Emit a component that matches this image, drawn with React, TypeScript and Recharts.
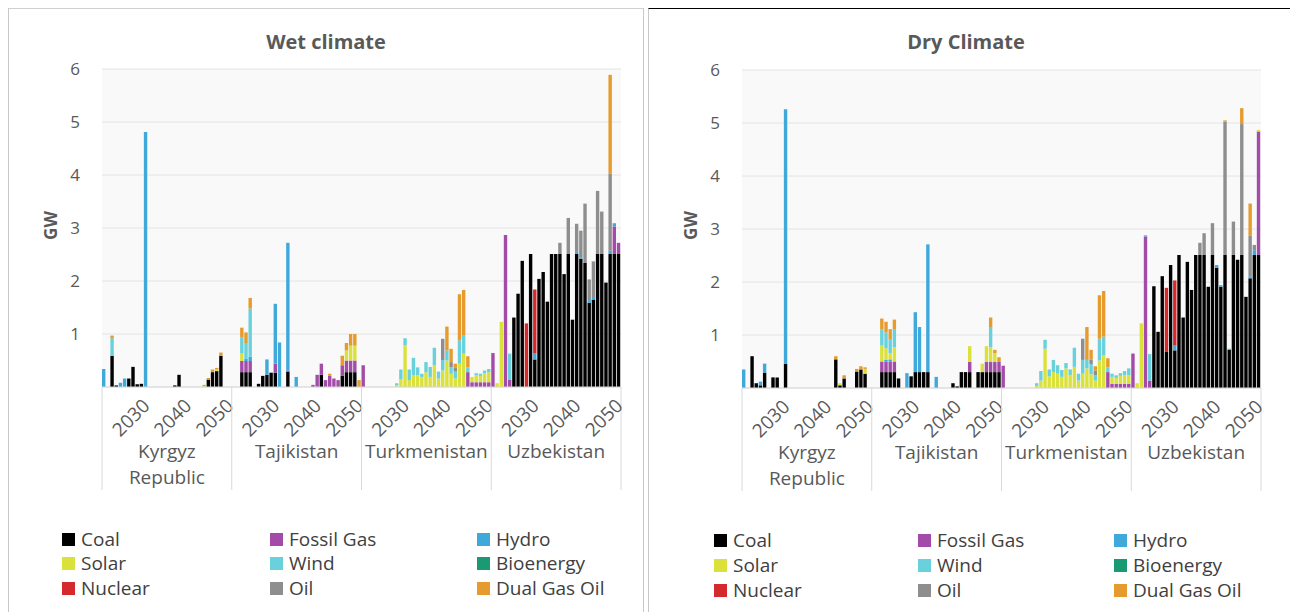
import React from 'react';
import { BarChart, Bar, XAxis, YAxis, CartesianGrid } from 'recharts';

// categories
const countries = ['Kyrgyz Republic', 'Tajikistan', 'Turkmenistan', 'Uzbekistan'];
const countryLines = [['Kyrgyz', 'Republic'], ['Tajikistan'], ['Turkmenistan'], ['Uzbekistan']];
const years = [
  2020, 2021, 2022, 2023, 2024, 2025, 2026, 2027, 2028, 2029,
  2030, 2031, 2032, 2033, 2034, 2035, 2036, 2037, 2038, 2039,
  2040, 2041, 2042, 2043, 2044, 2045, 2046, 2047, 2048, 2049,
  2050,
];
const labelledYears = [2030, 2040, 2050];
const yTicks = [1, 2, 3, 4, 5, 6];

const seriesKeys = ['coal', 'fossilGas', 'hydro', 'solar', 'wind', 'bioenergy', 'nuclear', 'oil', 'dualGasOil'];
const seriesNames = ['Coal', 'Fossil Gas', 'Hydro', 'Solar', 'Wind', 'Bioenergy', 'Nuclear', 'Oil', 'Dual Gas Oil'];
const seriesColors = ['#000000', '#a24ba8', '#3fa9dc', '#dbe13b', '#68d1db', '#1a9a73', '#d42a2e', '#8e8e8e', '#e59b2d'];

// GW per year, one list per country (Kyrgyz, Tajik, Turkmen, Uzbek); missing tail = 0
const wetCoal = [
  [0, 0, 0.59, 0.03, 0, 0, 0.16, 0.38, 0.05, 0.06, 0, 0, 0, 0, 0, 0, 0, 0.03, 0.23, 0, 0, 0, 0, 0, 0, 0.14, 0.28, 0.3, 0.59],
  [0, 0, 0.28, 0.28, 0.28, 0, 0.06, 0.21, 0.23, 0.27, 0.27, 0, 0, 0.29, 0, 0, 0, 0, 0, 0, 0, 0.23, 0, 0, 0, 0, 0.21, 0.28, 0.28, 0.28],
  [],
  [0, 0, 0, 0, 0, 1.31, 1.76, 2.38, 0, 2.51, 0.52, 2.04, 2.17, 1.61, 2.51, 2.51, 2.51, 2.13, 2.51, 1.27, 2.51, 2.42, 2.34, 1.59, 1.65, 2.51, 2.51, 1.97, 2.51, 2.51, 2.51],
];
const wetGas = [
  [],
  [0, 0, 0.21, 0.21, 0.21, 0, 0, 0, 0, 0, 0.17, 0, 0, 0.02, 0, 0, 0, 0, 0, 0.04, 0.23, 0.21, 0.13, 0.21, 0.16, 0.13, 0.2, 0.22, 0.22, 0.22],
  [0.41, 0, 0, 0, 0, 0, 0, 0, 0, 0, 0, 0, 0, 0, 0, 0, 0, 0, 0, 0, 0, 0, 0, 0, 0, 0.28, 0.09, 0.09, 0.09, 0.09, 0.09],
  [0.64, 0, 0, 2.87, 0.14, 0, 0, 0, 0, 0, 0, 0, 0, 0, 0, 0, 0, 0, 0, 0, 0, 0, 0, 0, 0, 0, 0, 0, 0, 0.52, 0.21],
];
const wetHydro = [
  [0.34, 0, 0, 0, 0.08, 0.16, 0, 0, 0, 0, 4.81],
  [0, 0, 0, 0.04, 0.08, 0, 0, 0, 0.29, 0, 1.13, 0.84, 0, 2.41, 0, 0.19],
  [],
  [0, 0, 0, 0, 0, 0, 0, 0, 0, 0, 0.11, 0, 0, 0, 0, 0, 0, 0, 0, 0, 0.04, 0.03, 0, 0.05, 0.03, 0, 0, 0, 0.06, 0.06],
];
const wetSolar = [
  [0, 0, 0, 0, 0, 0, 0, 0, 0, 0, 0, 0, 0, 0, 0, 0, 0, 0, 0, 0, 0, 0, 0, 0, 0.02, 0, 0, 0.03],
  [0, 0, 0.14, 0, 0, 0, 0, 0, 0, 0, 0, 0, 0, 0, 0, 0, 0, 0, 0, 0, 0, 0, 0, 0, 0, 0, 0, 0.19, 0.28, 0.28],
  [0, 0, 0, 0, 0, 0, 0, 0, 0.03, 0.14, 0.79, 0.13, 0.22, 0.22, 0.19, 0.28, 0.19, 0.41, 0.16, 0.31, 0.5, 0.25, 0.16, 0.44, 0.63, 0, 0.1, 0.13, 0.12, 0.17, 0.19],
  [0, 0.07, 1.23],
];
const wetWind = [
  [0, 0, 0.33],
  [0, 0, 0.31, 0.3, 0.91],
  [0, 0, 0, 0, 0, 0, 0, 0, 0.04, 0.19, 0.13, 0.2, 0.33, 0.15, 0.06, 0.19, 0.19, 0.33, 0.13, 0.2, 0.19, 0.12, 0.13, 0.44, 0.35, 0.09, 0, 0.04, 0.04, 0.05, 0.06],
  [0, 0, 0, 0, 0.49],
];
const wetBio = [[], [], [], []];
const wetNuclear = [
  [],
  [],
  [],
  [0, 0, 0, 0, 0, 0, 0, 0, 1.2, 0, 1.21],
];
const wetOil = [
  [],
  [],
  [0, 0, 0, 0, 0, 0, 0, 0, 0, 0, 0, 0, 0, 0, 0, 0, 0, 0, 0, 0.4, 0, 0.1, 0.07],
  [0, 0, 0, 0, 0, 0, 0, 0, 0, 0, 0, 0, 0, 0, 0, 0, 0.21, 0, 0.68, 0, 0.53, 0.5, 1.12, 0.39, 0.69, 1.19, 0.8, 0, 1.46],
];
const wetDual = [
  [0, 0, 0.05, 0, 0, 0, 0, 0, 0, 0, 0, 0, 0, 0, 0, 0, 0, 0, 0, 0, 0, 0, 0, 0, 0.02, 0.03, 0.05, 0.03, 0.06],
  [0, 0, 0.18, 0.2, 0.2, 0, 0, 0, 0, 0, 0, 0, 0, 0, 0, 0, 0, 0, 0, 0, 0, 0, 0, 0.04, 0, 0, 0.18, 0.14, 0.22, 0.22, 0.13],
  [0, 0, 0, 0, 0, 0, 0, 0, 0, 0, 0, 0, 0, 0, 0, 0, 0, 0, 0, 0, 0.45, 0.25, 0.08, 0.87, 0.85, 0.21],
  [0, 0, 0, 0, 0, 0, 0, 0, 0, 0, 0, 0, 0, 0, 0, 0, 0, 0, 0, 0, 0, 0, 0, 0, 0, 0, 0, 0, 1.86],
];

const dryCoal = [
  [0, 0, 0.6, 0.09, 0.05, 0.29, 0, 0.2, 0.2, 0, 0.46, 0, 0, 0, 0, 0, 0, 0, 0, 0, 0, 0, 0.54, 0.05, 0.18, 0, 0, 0.31, 0.35, 0.27],
  [0, 0, 0.3, 0.3, 0.3, 0.3, 0.18, 0, 0, 0.22, 0.3, 0.3, 0.3, 0.3, 0, 0, 0, 0, 0, 0.09, 0.03, 0.3, 0.3, 0.3, 0, 0.3, 0.3, 0.3, 0.3, 0.3, 0.3],
  [],
  [0, 0, 0, 0, 0, 1.92, 1.06, 2.11, 0.68, 2.32, 0.71, 2.51, 1.33, 2.38, 1.85, 2.51, 2.51, 2.51, 1.91, 2.51, 2.27, 1.91, 2.51, 0.72, 2.51, 2.42, 2.51, 1.72, 2.07, 2.51, 2.51],
];
const dryGas = [
  [],
  [0, 0, 0.2, 0.2, 0.2, 0.2, 0, 0, 0, 0, 0, 0, 0, 0, 0, 0, 0, 0, 0, 0, 0, 0, 0, 0.19, 0, 0, 0, 0.19, 0.19, 0.19, 0.19],
  [0.42, 0, 0, 0, 0, 0, 0, 0, 0, 0, 0, 0, 0, 0, 0, 0, 0, 0, 0, 0, 0, 0, 0, 0, 0, 0.3, 0.08, 0.08, 0.08, 0.08, 0.08],
  [0.65, 0, 0, 2.86, 0.14, 0, 0, 0, 0, 0, 0, 0, 0, 0, 0, 0, 0, 0, 0, 0, 0, 0, 0, 0, 0, 0, 0, 0, 0, 0, 2.33],
];
const dryHydro = [
  [0.35, 0, 0, 0, 0.07, 0.17, 0, 0, 0, 0, 4.8],
  [0, 0, 0, 0.03, 0.04, 0, 0, 0, 0.28, 0, 1.13, 0.85, 0, 2.41, 0, 0.21],
  [],
  [0, 0, 0, 0.02, 0, 0, 0, 0, 0, 0, 0.09, 0, 0, 0, 0, 0, 0, 0, 0, 0, 0.05, 0.03, 0, 0.02, 0, 0, 0, 0, 0.04, 0.09],
];
const drySolar = [
  [0, 0, 0, 0, 0, 0, 0, 0, 0, 0, 0, 0, 0, 0, 0, 0, 0, 0, 0, 0, 0, 0, 0, 0.04, 0, 0, 0, 0, 0, 0.09],
  [0, 0, 0.3, 0.22, 0.12, 0.27, 0, 0, 0, 0, 0, 0, 0, 0, 0, 0, 0, 0, 0, 0, 0, 0, 0, 0.3, 0, 0, 0.16, 0.3, 0.28, 0.17],
  [0, 0, 0, 0, 0, 0, 0, 0, 0.04, 0.14, 0.74, 0.22, 0.3, 0.27, 0.21, 0.37, 0.24, 0.4, 0.14, 0.27, 0.37, 0.26, 0.14, 0.52, 0.62, 0, 0.13, 0.11, 0.15, 0.16, 0.16],
  [0, 0.09, 1.22, 0, 0, 0, 0, 0, 0, 0, 0, 0, 0, 0, 0, 0, 0, 0, 0, 0, 0, 0, 0, 0, 0, 0, 0, 0, 0, 0, 0.03],
];
const dryWind = [
  [],
  [0, 0, 0.3, 0.3, 0.25, 0.33, 0, 0, 0, 0, 0, 0, 0, 0, 0, 0, 0, 0, 0, 0, 0, 0, 0, 0, 0, 0, 0, 0, 0.38],
  [0, 0, 0, 0, 0, 0, 0, 0, 0.05, 0.18, 0.17, 0.13, 0.23, 0.16, 0.13, 0.1, 0.11, 0.36, 0.13, 0.26, 0.16, 0.19, 0.1, 0.41, 0.35, 0.09, 0.06, 0.05, 0.05, 0.08, 0.13],
  [0, 0, 0, 0, 0.5],
];
const dryBio = [[], [], [], []];
const dryNuclear = [
  [],
  [],
  [],
  [0, 0, 0, 0, 0, 0, 0, 0, 1.21, 0, 1.23],
];
const dryOil = [
  [],
  [],
  [0, 0, 0, 0, 0, 0, 0, 0, 0, 0, 0, 0, 0, 0, 0, 0, 0, 0, 0, 0.4, 0, 0.09, 0.09],
  [0, 0, 0, 0, 0, 0, 0, 0, 0, 0, 0, 0, 0, 0, 0, 0, 0.23, 0.41, 0, 0.6, 0, 0, 2.52, 0, 0.63, 0, 2.47, 0, 0.77, 0.1],
];
const dryDual = [
  [0, 0, 0, 0, 0, 0, 0, 0, 0, 0, 0, 0, 0, 0, 0, 0, 0, 0, 0, 0, 0, 0, 0.06, 0, 0.06, 0, 0, 0.05, 0.06, 0.03],
  [0, 0, 0.21, 0.2, 0.2, 0.19, 0, 0, 0, 0, 0, 0, 0, 0, 0, 0, 0, 0, 0, 0, 0, 0, 0, 0, 0, 0, 0, 0, 0.18, 0.06, 0.09],
  [0, 0, 0, 0, 0, 0, 0, 0, 0, 0, 0, 0, 0, 0, 0, 0, 0, 0, 0, 0, 0.62, 0.18, 0.08, 0.82, 0.86, 0.17],
  [0, 0, 0, 0, 0, 0, 0, 0, 0, 0, 0, 0, 0, 0, 0, 0, 0, 0, 0, 0, 0, 0, 0.02, 0, 0, 0, 0.3, 0, 0.6],
];

const wetSeries = [wetCoal, wetGas, wetHydro, wetSolar, wetWind, wetBio, wetNuclear, wetOil, wetDual];
const drySeries = [dryCoal, dryGas, dryHydro, drySolar, dryWind, dryBio, dryNuclear, dryOil, dryDual];

const FONT = '"Open Sans", "Liberation Sans", sans-serif';
const AXIS_GRAY = '#595959';
const CHART_W = 636;
const CHART_H = 520;
const PLOT_W = 519;
const N = countries.length * years.length;
const SLOT = PLOT_W / N;

function buildRows(series: number[][][]) {
  const rows: Record<string, any>[] = [];
  countries.forEach((c, ci) => {
    years.forEach((y, yi) => {
      const row: Record<string, any> = { key: `${ci}-${y}`, country: c, year: y };
      seriesKeys.forEach((k, si) => {
        row[k] = series[si][ci][yi] ?? 0;
      });
      rows.push(row);
    });
  });
  return rows;
}

const CategoryTick = (props: any) => {
  const { x, y } = props;
  const index: number = props.index ?? props.payload?.index ?? 0;
  const ci = Math.floor(index / years.length);
  const yi = index % years.length;
  const year = years[yi];
  const parts: React.ReactNode[] = [];
  if (yi === 0) {
    parts.push(<line key="l" x1={x - SLOT / 2} x2={x - SLOT / 2} y1={y} y2={y + 103} stroke="#d9d9d9" />);
  }
  if (index === N - 1) {
    parts.push(<line key="r" x1={x + SLOT / 2} x2={x + SLOT / 2} y1={y} y2={y + 103} stroke="#d9d9d9" />);
  }
  if (labelledYears.includes(year)) {
    const ax = x + 5;
    const ay = y + 20;
    parts.push(
      <text key="yr" x={ax} y={ay} transform={`rotate(-45 ${ax} ${ay})`} textAnchor="end"
        fontSize={19} fill={AXIS_GRAY} fontFamily={FONT}>{year}</text>
    );
  }
  if (yi === 15) {
    countryLines[ci].forEach((ln, li) => {
      parts.push(
        <text key={'c' + li} x={x} y={y + 71 + li * 26} textAnchor="middle"
          fontSize={19} fill={AXIS_GRAY} fontFamily={FONT}>{ln}</text>
      );
    });
  }
  return <g>{parts}</g>;
};

interface PanelProps {
  title: string;
  series: number[][][];
  left: number;
  top: number;
  marginTop: number;
  legendCols: number[];
  legendRows: number[];
}

const Panel: React.FC<PanelProps> = ({ title, series, left, top, marginTop, legendCols, legendRows }) => {
  const rows = buildRows(series);
  return (
    <>
      <div style={{ position: 'absolute', left, top, width: CHART_W }}>
        <BarChart width={CHART_W} height={CHART_H} data={rows}
          margin={{ top: marginTop, right: CHART_W - 94 - PLOT_W, bottom: CHART_H - marginTop - 318 - 141, left: 34 }}>
          <CartesianGrid vertical={false} stroke="#e4e4e4" fill="#f9f9f9" />
          <XAxis dataKey="key" interval={0} tickSize={0} tickMargin={0} height={141}
            axisLine={{ stroke: '#d9d9d9' }} tickLine={false} tick={CategoryTick} />
          <YAxis domain={[0, 6]} ticks={yTicks} interval={0} width={60} axisLine={false} tickLine={false}
            tickSize={0} tickMargin={22} tick={{ fontSize: 17, fill: AXIS_GRAY, fontFamily: FONT }} />
          {seriesKeys.map((k, si) => (
            <Bar key={k} dataKey={k} name={seriesNames[si]} stackId="mix" fill={seriesColors[si]}
              barSize={3.4} isAnimationActive={false} />
          ))}
        </BarChart>
      </div>
      <div style={{ position: 'absolute', left, top: top + 20, width: 636, textAlign: 'center',
        fontFamily: FONT, fontWeight: 700, fontSize: 20, color: AXIS_GRAY }}>{title}</div>
      <div style={{ position: 'absolute', left: left + 42 - 20, top: 214, width: 40, textAlign: 'center',
        transform: 'rotate(-90deg)', fontFamily: FONT, fontWeight: 700, fontSize: 17, color: AXIS_GRAY }}>GW</div>
      {seriesNames.map((name, si) => {
        const col = si % 3;
        const row = Math.floor(si / 3);
        return (
          <div key={name} style={{ position: 'absolute', left: legendCols[col], top: legendRows[row] - 13,
            height: 26, display: 'flex', alignItems: 'center', fontFamily: FONT, fontSize: 19, color: '#404040',
            whiteSpace: 'nowrap' }}>
            <span style={{ width: 13, height: 13, background: seriesColors[si], marginRight: 6, display: 'inline-block' }} />
            {name}
          </div>
        );
      })}
    </>
  );
};

export default function App() {
  return (
    <div style={{ position: 'absolute', left: 0, top: 0, width: 1290, height: 612, background: '#fff', overflow: 'hidden' }}>
      <div style={{ position: 'absolute', left: 8, top: 8, width: 634, height: 610, borderTop: '1px solid #d0d0d0',
        borderLeft: '1px solid #c8c8c8', borderRight: '1px solid #c8c8c8' }} />
      <div style={{ position: 'absolute', left: 648, top: 8, width: 650, height: 610, borderTop: '1.5px solid #000',
        borderLeft: '1px solid #c8c8c8' }} />
      <Panel title="Wet climate" series={wetSeries} left={8} top={8} marginTop={61}
        legendCols={[62, 270, 477]} legendRows={[539, 563, 588]} />
      <Panel title="Dry Climate" series={drySeries} left={648} top={8} marginTop={62}
        legendCols={[714, 918, 1114]} legendRows={[540, 565, 590]} />
    </div>
  );
}
